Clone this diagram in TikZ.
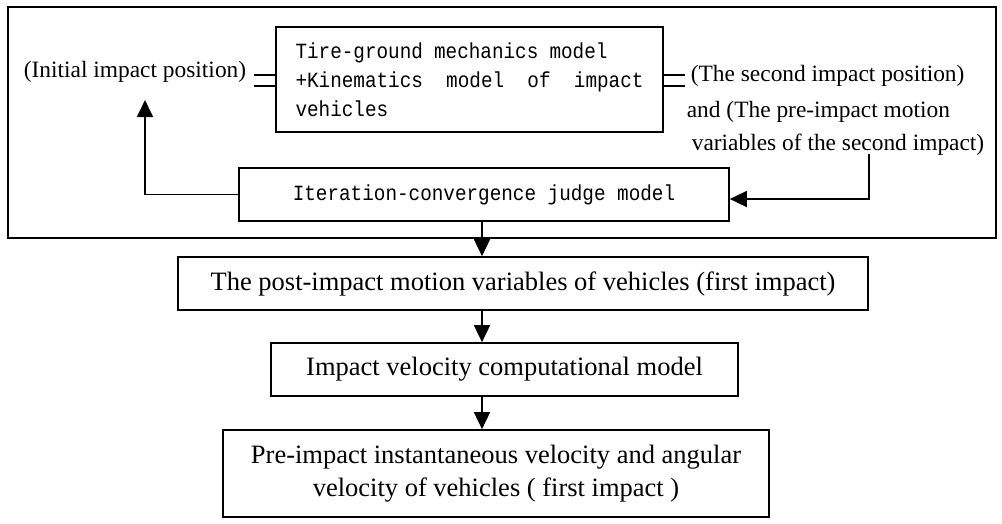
\documentclass[tikz,border=0pt]{standalone}
\usepackage{fontspec}
\setmainfont{Liberation Serif}
\setmonofont[FakeStretch=0.89]{Liberation Mono}
\usetikzlibrary{arrows.meta,calc}
\newcommand\mymonofnt{\ttfamily\fontsize{21.7}{29}\selectfont\spaceskip=11.56pt\relax}
\begin{document}
\begin{tikzpicture}[x=1pt,y=-1pt,
  line width=1.7pt,
  box/.style={draw, inner sep=0pt, font=\fontsize{26.5}{33}\selectfont, align=center},
  monobox/.style={draw, inner sep=0pt, font=\mymonofnt},
  lbl/.style={inner sep=0pt, font=\fontsize{23.4}{28}\selectfont},
  arr/.style={-{Triangle[length=17pt,width=16pt]}},
]
\useasboundingbox (0,0) rectangle (1002,523);
% outer frame
\node[draw, inner sep=0pt, minimum width=988, minimum height=231] (frame) at (502,122.5) {};
% boxes
\node[monobox, minimum width=387, minimum height=105, text width=348, align=left] (tire) at (469.5,79.5)
  {\leavevmode\hbox to 312pt{Tire-ground\hfill mechanics\hfill model}\\\leavevmode\hbox to 348pt{+Kinematics\hfill model\hfill of\hfill impact}\\vehicles};
\node[monobox, minimum width=490, minimum height=53] (iter) at (484,194.5) {Iteration-convergence judge model};
\node[box, minimum width=690, minimum height=53] (post) at (523,283.5) {The post-impact motion variables of vehicles (first impact)};
\node[box, minimum width=467, minimum height=53] (imp) at (504.5,369.5) {Impact velocity computational model};
\node[box, minimum width=546, minimum height=87] (pre) at (496,473.5) {Pre-impact instantaneous velocity and angular\\velocity of vehicles ( first impact )};
% labels
\node[lbl, anchor=east] (init) at (247,72) {(Initial impact position)};
\node[lbl, anchor=west] (sec1) at (690,76) {(The second impact position)};
\node[lbl, anchor=west] (sec2) at (686,112) {and (The pre-impact motion};
\node[lbl, anchor=west] (sec3) at (691,145) {variables of the second impact)};
% double lines
\coordinate (l1) at (254,75);
\coordinate (l2) at (254,86);
\coordinate (r1) at (685,75);
\coordinate (r2) at (685,86);
\draw (l1) -- (l1 -| tire.west);
\draw (l2) -- (l2 -| tire.west);
\draw (r1 -| tire.east) -- (r1);
\draw (r2 -| tire.east) -- (r2);
% feedback left
\coordinate (fb) at (145,100);
\draw[arr] (iter.west) -| (fb);
% feedback right
\coordinate (rt) at (869,154);
\coordinate (rb) at (869,199);
\draw[arr] (rt) -- (rb) -- (rb -| iter.east);
% down arrows
\coordinate (ax) at (482,0);
\draw[arr] (iter.south -| ax) -- (post.north -| ax);
\draw[arr] (post.south -| ax) -- (imp.north -| ax);
\draw[arr] (imp.south -| ax) -- (pre.north -| ax);
\end{tikzpicture}
\end{document}
